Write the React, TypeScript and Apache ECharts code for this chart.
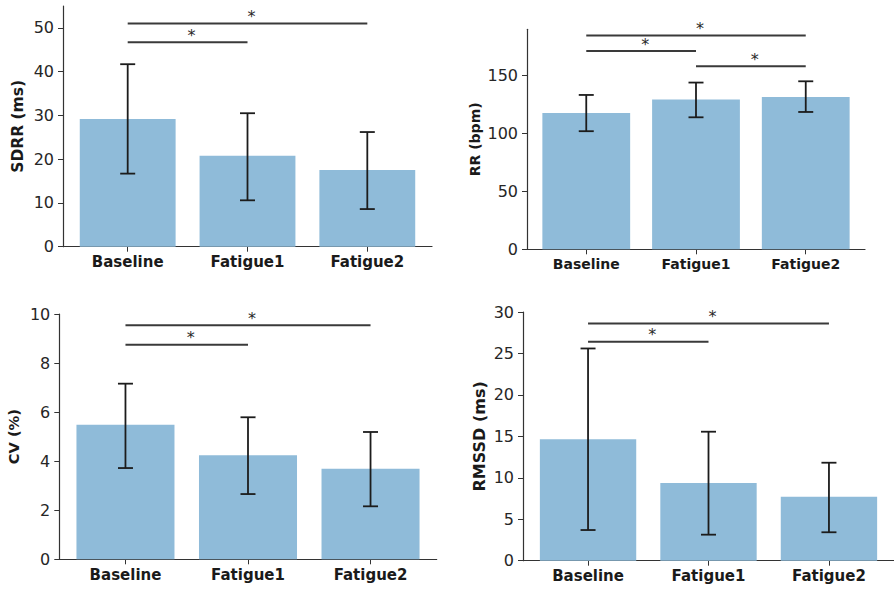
import React, { useEffect, useRef } from "react";
import * as echarts from "echarts";

const categories = ["Baseline", "Fatigue1", "Fatigue2"];

const sdrrMean = [29.2, 20.8, 17.5];
const sdrrLow = [16.7, 10.6, 8.6];
const sdrrHigh = [41.7, 30.5, 26.2];
const sdrrSig = [[0, 1, 46.7], [0, 2, 51.0]];

const rrMean = [117.8, 129.3, 131.6];
const rrLow = [102.0, 114.0, 118.6];
const rrHigh = [133.3, 144.0, 145.1];
const rrSig = [[0, 2, 184.7], [0, 1, 171.2], [1, 2, 158.0]];

const cvMean = [5.49, 4.24, 3.69];
const cvLow = [3.72, 2.66, 2.16];
const cvHigh = [7.16, 5.79, 5.19];
const cvSig = [[0, 2, 9.54], [0, 1, 8.75]];

const rmssdMean = [14.64, 9.37, 7.72];
const rmssdLow = [3.7, 3.14, 3.43];
const rmssdHigh = [25.6, 15.56, 11.82];
const rmssdSig = [[0, 2, 28.6], [0, 1, 26.4]];

const panels = [
  { name: "SDRR (ms)", mean: sdrrMean, low: sdrrLow, high: sdrrHigh, sig: sdrrSig, max: 55, ticks: [0, 10, 20, 30, 40, 50],
    grid: { left: 63, top: 6, width: 369, height: 240.7 }, nameGap: 37, nameFont: 15.5, xFont: 15 },
  { name: "RR (bpm)", mean: rrMean, low: rrLow, high: rrHigh, sig: rrSig, max: 190, ticks: [0, 50, 100, 150],
    grid: { left: 527, top: 29.3, width: 338, height: 220 }, nameGap: 45, nameFont: 14, xFont: 14 },
  { name: "CV (%)", mean: cvMean, low: cvLow, high: cvHigh, sig: cvSig, max: 10, ticks: [0, 2, 4, 6, 8, 10],
    grid: { left: 59.3, top: 314, width: 377.4, height: 245.3 }, nameGap: 38, nameFont: 14.7, xFont: 15 },
  { name: "RMSSD (ms)", mean: rmssdMean, low: rmssdLow, high: rmssdHigh, sig: rmssdSig, max: 30, ticks: [0, 5, 10, 15, 20, 25, 30],
    grid: { left: 523, top: 312, width: 379, height: 248.7 }, nameGap: 36, nameFont: 16, xFont: 15 },
];

const FONT = "DejaVu Sans";
const BAR_COLOR = "#8fbbd9";

export default function App() {
  const ref = useRef<HTMLDivElement>(null);
  useEffect(() => {
    document.body.style.margin = "0";
    const chart = echarts.init(ref.current!, null, { renderer: "svg" });
    const grid: any[] = [];
    const xAxis: any[] = [];
    const yAxis: any[] = [];
    const series: any[] = [];
    panels.forEach((p, k) => {
      grid.push({ ...p.grid, containLabel: false });
      xAxis.push({
        type: "value", gridIndex: k, min: -0.54, max: 2.54,
        splitLine: { show: false },
        axisLine: { show: true, onZero: false, lineStyle: { color: "#333", width: 1.2 } },
        axisTick: { show: true, customValues: [0, 1, 2], length: 5, lineStyle: { color: "#333" } },
        axisLabel: {
          customValues: [0, 1, 2], formatter: (v: number) => categories[Math.round(v)] ?? "",
          fontFamily: FONT, fontWeight: "bold", fontSize: p.xFont, color: "#1a1a1a", margin: 8,
        },
      });
      yAxis.push({
        type: "value", gridIndex: k, min: 0, max: p.max,
        name: p.name, nameLocation: "middle", nameRotate: 90, nameGap: p.nameGap,
        nameTextStyle: { fontFamily: FONT, fontWeight: "bold", fontSize: p.nameFont, color: "#1a1a1a" },
        splitLine: { show: false },
        axisLine: { show: true, onZero: false, lineStyle: { color: "#333", width: 1.2 } },
        axisTick: { show: true, customValues: p.ticks, length: 5, lineStyle: { color: "#333" } },
        axisLabel: { customValues: p.ticks, fontFamily: FONT, fontSize: 16, color: "#262626", margin: 9 },
      });
      const barData = p.mean.map((m, i) => [i, m, p.low[i], p.high[i]]);
      series.push({
        type: "custom", xAxisIndex: k, yAxisIndex: k, data: barData,
        renderItem: (params: any, api: any) => {
          const i = api.value(0);
          const m = api.value(1);
          const tl = api.coord([i - 0.4, m]);
          const br = api.coord([i + 0.4, 0]);
          return {
            type: "rect",
            shape: { x: tl[0], y: tl[1], width: br[0] - tl[0], height: br[1] - tl[1] },
            style: { fill: BAR_COLOR },
          };
        },
      });
      series.push({
        type: "custom", xAxisIndex: k, yAxisIndex: k, data: barData, z: 3,
        renderItem: (params: any, api: any) => {
          const i = api.value(0);
          const lo = api.coord([i, api.value(2)]);
          const hi = api.coord([i, api.value(3)]);
          const cap = 7.5;
          const st = { stroke: "#1c1c1c", lineWidth: 1.8 };
          return {
            type: "group",
            children: [
              { type: "line", shape: { x1: lo[0], y1: lo[1], x2: hi[0], y2: hi[1] }, style: st },
              { type: "line", shape: { x1: lo[0] - cap, y1: lo[1], x2: lo[0] + cap, y2: lo[1] }, style: st },
              { type: "line", shape: { x1: hi[0] - cap, y1: hi[1], x2: hi[0] + cap, y2: hi[1] }, style: st },
            ],
          };
        },
      });
      series.push({
        type: "custom", xAxisIndex: k, yAxisIndex: k, data: p.sig, z: 4,
        renderItem: (params: any, api: any) => {
          const a = api.coord([api.value(0), api.value(2)]);
          const b = api.coord([api.value(1), api.value(2)]);
          return {
            type: "group",
            children: [
              { type: "line", shape: { x1: a[0], y1: a[1], x2: b[0], y2: b[1] }, style: { stroke: "#3a3a3a", lineWidth: 2 } },
              {
                type: "text", x: (a[0] + b[0]) / 2 + 4, y: a[1] + 1,
                style: { text: "*", font: "16px 'DejaVu Sans'", fill: "#2a2a2a", stroke: "none", align: "center", verticalAlign: "bottom" },
              },
            ],
          };
        },
      });
    });
    chart.setOption({ animation: false, grid, xAxis, yAxis, series });
    return () => chart.dispose();
  }, []);
  return <div ref={ref} style={{ width: 894, height: 590 }} />;
}
